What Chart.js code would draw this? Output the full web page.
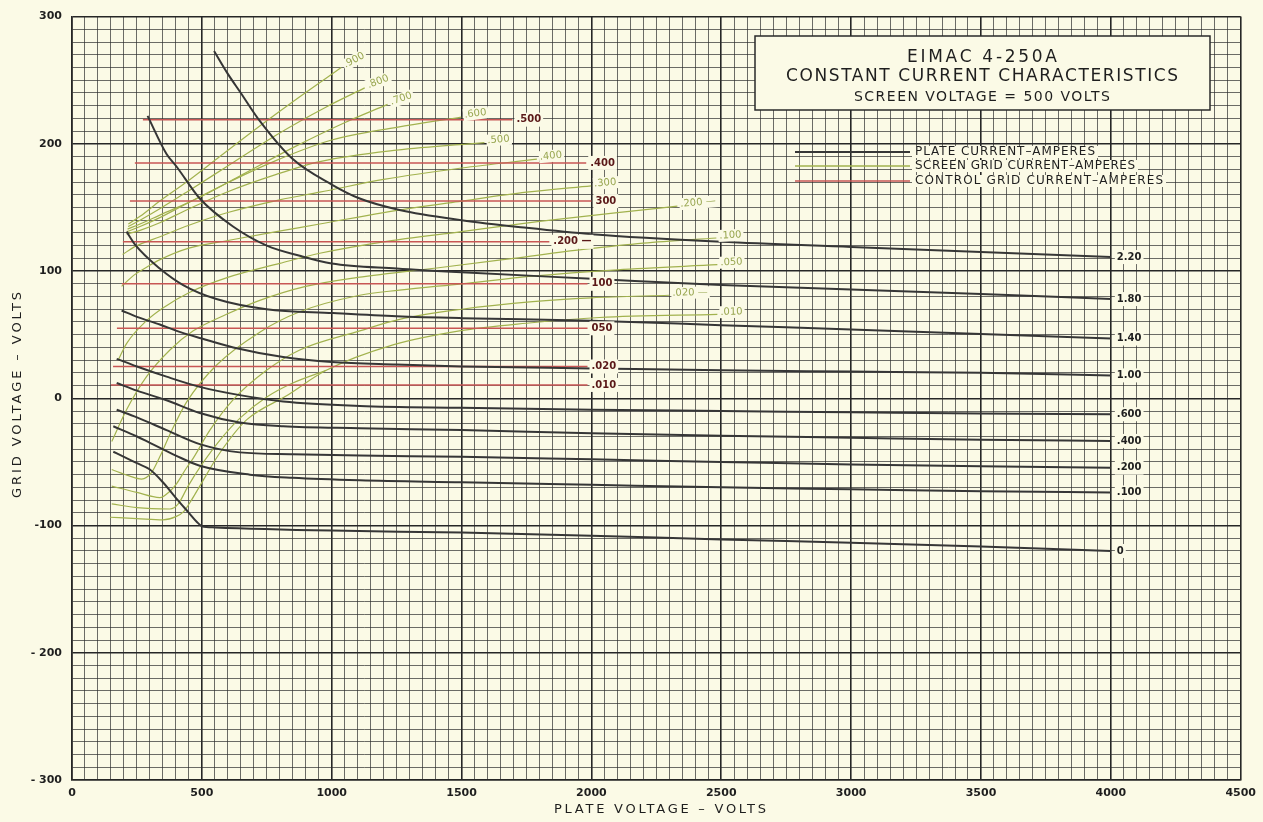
<!DOCTYPE html>
<html>
<head>
<meta charset="utf-8">
<script src="https://cdn.jsdelivr.net/npm/chart.js@4.4.0/dist/chart.umd.min.js"></script>
<style>
  html, body { margin: 0; padding: 0; background: #fbfae6; }
  canvas { display: block; }
</style>
</head>
<body>
<canvas id="cc" width="1263" height="822"></canvas>
<script>
// axis ranges and labels
const xMin = 0, xMax = 4500, yMin = -300, yMax = 300;
const xLabelValues = [0, 500, 1000, 1500, 2000, 2500, 3000, 3500, 4000, 4500];
const yLabelValues = [300, 200, 100, 0, -100, -200, -300];
const yLabelTexts = ['300', '200', '100', '0', '-100', '- 200', '- 300'];

// plate current curves, [plate volts, grid volts]
const plate220 = [[547,273],[600,255],[650,240],[723,218],[850,188],[1000,168],[1108,157],[1261,148],[1500,140],[1750,134],[2000,129],[2500,123],[3000,119],[3500,115],[4000,111]];
const plate180 = [[291,222],[364,192],[403,182],[492,157],[620,135],[750,120],[877,112],[1000,106],[1250,102],[1500,99],[2000,94],[2500,89],[3000,85.5],[3500,82],[4000,78]];
const plate140 = [[210,131],[242,121],[338,102],[428,89],[556,78],[749,70],[1005,67],[1250,64.5],[1500,63],[2000,61],[2500,57.5],[3000,54],[3500,50.5],[4000,47]];
const plate100 = [[191,69],[250,64],[338,58],[403,53],[500,47],[621,40],[813,32.5],[1000,28.5],[1250,26.5],[1500,25],[2000,23.5],[2500,22],[3000,21],[3500,20],[4000,18]];
const plate060 = [[172,31],[250,25],[364,17],[492,9],[646,2.5],[813,-2.5],[1108,-6],[1500,-7.5],[2000,-9],[2500,-10],[3000,-11],[3500,-12],[4000,-12.5]];
const plate040 = [[172,12],[250,6],[364,-1.5],[492,-11.5],[646,-19],[813,-22],[1108,-23.5],[1500,-25],[2000,-27.5],[2500,-29.5],[3000,-31],[3500,-32.5],[4000,-33.5]];
const plate020 = [[172,-9],[250,-15],[364,-25],[492,-36],[646,-42.5],[850,-44],[1108,-45],[1500,-46],[2000,-48],[2500,-50],[3000,-52],[3500,-53.5],[4000,-54.5]];
const plate010 = [[159,-22],[250,-30],[300,-35],[400,-45],[492,-53],[685,-60],[850,-62.5],[1108,-64.5],[1500,-66],[2000,-68],[2500,-70],[3000,-71.5],[3500,-73],[4000,-74]];
const plate000 = [[159,-42],[200,-46],[250,-51],[300,-56],[350,-66],[403,-79],[450,-90],[480,-97],[500,-100.5],[550,-101.5],[1000,-104],[1500,-105.5],[2000,-108],[2500,-111],[3000,-113.5],[3500,-116.5],[4000,-120]];
const plateCurves = [plate220, plate180, plate140, plate100, plate060, plate040, plate020, plate010, plate000];
const plateLabels = ['2.20', '1.80', '1.40', '1.00', '.600', '.400', '.200', '.100', '0'];

// screen grid current curves
const scr900 = [[217,137],[262,143],[338,155],[441,170],[569,190],[723,214],[877,237],[1037,260]];
const scr800 = [[216,135],[262,140],[338,149],[441,162],[595,182],[787,207],[979,229],[1127,244]];
const scr700 = [[214,133],[262,137],[338,144],[492,158],[658,176],[851,197],[1043,216],[1215,231]];
const scr600 = [[212,131],[262,135],[338,142],[441,153],[595,169],[787,187],[1000,203],[1250,213],[1499,221]];
const scr500 = [[210,129],[262,132],[338,138],[441,148],[595,162],[787,176],[954,186],[1250,195],[1588,201]];
const scr400 = [[195,113],[240,119],[339,127],[450,136],[600,146],[800,156],[954,162],[1200,172],[1500,181],[1790,188]];
const scr300 = [[191,88],[240,97],[287,103],[339,109],[450,118],[600,124],[787,131],[954,137],[1200,146],[1500,155],[1750,162],[1999,167]];
const scr200 = [[178,30],[210,43],[287,61],[350,71],[450,83],[600,95],[800,106],[954,114],[1200,123],[1500,131],[1800,139],[2100,146],[2331,151]];
const scr100 = [[153,-34],[210,-9],[287,17],[377,38],[467,53],[595,66],[723,77],[900,88],[1100,95],[1427,103],[1700,110],[1969,117],[2200,122],[2481,126]];
const scr050 = [[153,-56],[220,-61],[268,-63.5],[306,-58.5],[338,-46],[380,-27],[441,-3],[556,26],[723,52],[877,68],[1108,81],[1261,85],[1500,90],[1774,96],[2100,101],[2485,105]];
const scr020 = [[153,-69],[250,-74],[338,-78],[377,-73],[403,-67],[440,-55],[467,-47],[531,-25],[621,-1],[749,22],[877,38],[1108,53],[1261,62],[1500,70],[1774,76],[2000,79],[2300,81]];
const scrHook = [[153,-83],[250,-86],[377,-87],[409,-83],[447,-69],[500,-52],[569,-33],[650,-15],[750,1],[850,12],[979,22]];
const scr010 = [[146,-93.5],[250,-94.5],[350,-95.5],[400,-93],[430,-89],[460,-80],[492,-69],[569,-43],[672,-17],[826,2],[979,22],[1236,42],[1492,53],[1750,59],[2031,63.5],[2485,66]];
const screenCurves = [scr900, scr800, scr700, scr600, scr500, scr400, scr300, scr200, scr100, scr050, scr020, scrHook, scr010];
const screenLabels = ['.900', '.800', '.700', '.600', '.500', '.400', '.300', '.200 —', '.100', '.050', '.020 —', '', '.010'];

// control grid current (flat lines)
const ctrlLevels = [219, 185, 155, 123, 90, 55, 25, 10.5];
const ctrlStartV = [273, 242, 223, 196, 192, 173, 158, 150];
const ctrlEndV = [1696, 1980, 2000, 1838, 1985, 1985, 1985, 1985];
const ctrlLabels = ['.500', '.400', '300', '.200 —', '100', '050', '.020', '.010'];

// texts
const titleLines = ['EIMAC 4-250A', 'CONSTANT CURRENT CHARACTERISTICS', 'SCREEN VOLTAGE = 500 VOLTS'];
const legendTexts = ['PLATE CURRENT–AMPERES', 'SCREEN GRID CURRENT–AMPERES', 'CONTROL GRID CURRENT–AMPERES'];
const xTitle = 'PLATE VOLTAGE – VOLTS';
const yTitle = 'GRID VOLTAGE – VOLTS';

const PAPER = '#fbfae6';
const PLATE_COL = '#363636';
const SCREEN_COL = '#a2b24e';
const CTRL_COL = '#c85654';
const FONT = '"DejaVu Sans", sans-serif';

const toXY = pts => pts.map(p => ({ x: p[0], y: p[1] }));

const datasets = [];
plateCurves.forEach((c, i) => datasets.push({
  label: 'plate ' + plateLabels[i], data: toXY(c), showLine: true,
  borderColor: PLATE_COL, borderWidth: 2, pointRadius: 0,
  cubicInterpolationMode: 'monotone', kind: 'plate', tag: plateLabels[i]
}));
ctrlLevels.forEach((g, i) => datasets.push({
  label: 'control ' + ctrlLabels[i], data: [{ x: ctrlStartV[i], y: g }, { x: ctrlEndV[i], y: g }],
  showLine: true, borderColor: CTRL_COL, borderWidth: 1.5, pointRadius: 0, tension: 0,
  kind: 'ctrl', tag: ctrlLabels[i]
}));
screenCurves.forEach((c, i) => datasets.push({
  label: 'screen ' + screenLabels[i], data: toXY(c), showLine: true,
  borderColor: SCREEN_COL, borderWidth: 1.2, pointRadius: 0,
  cubicInterpolationMode: 'monotone', kind: 'screen', tag: screenLabels[i]
}));

function spacedText(ctx, text, cx, cy, font, width) {
  ctx.font = font;
  ctx.letterSpacing = '0px';
  const w0 = ctx.measureText(text).width;
  const sp = Math.max(0, (width - w0) / Math.max(1, text.length - 1));
  ctx.letterSpacing = sp + 'px';
  ctx.textAlign = 'left';
  ctx.textBaseline = 'middle';
  ctx.fillText(text, cx - width / 2, cy);
  ctx.letterSpacing = '0px';
}

function boxedLabel(ctx, text, x, y, font, color) {
  ctx.font = font;
  const w = ctx.measureText(text).width;
  ctx.fillStyle = PAPER;
  ctx.fillRect(x - 2, y - 7, w + 4, 14);
  ctx.fillStyle = color;
  ctx.textAlign = 'left';
  ctx.textBaseline = 'middle';
  ctx.fillText(text, x, y);
}

const annotate = {
  id: 'annotate',
  afterDatasetsDraw(chart) {
    const { ctx, scales: { x, y } } = chart;
    ctx.save();

    chart.data.datasets.forEach(ds => {
      if (!ds.tag) return;
      const pts = ds.data;
      const a = pts[pts.length - 2], b = pts[pts.length - 1];
      const px = x.getPixelForValue(b.x), py = y.getPixelForValue(b.y);
      if (ds.kind === 'plate') {
        boxedLabel(ctx, ds.tag, px + 6, py, 'bold 10px ' + FONT, '#1e1e1e');
      } else if (ds.kind === 'ctrl') {
        boxedLabel(ctx, ds.tag, px + 4, py, 'bold 10px ' + FONT, '#5a1818');
      } else {
        const ax = x.getPixelForValue(a.x), ay = y.getPixelForValue(a.y);
        const ang = Math.atan2(py - ay, px - ax) * 0.8;
        ctx.save();
        ctx.translate(px + 3, py - 2);
        ctx.rotate(ang);
        ctx.font = '10px ' + FONT;
        const w = ctx.measureText(ds.tag).width;
        ctx.fillStyle = PAPER;
        ctx.fillRect(-1, -6, w + 3, 12);
        ctx.fillStyle = '#98a650';
        ctx.textAlign = 'left';
        ctx.textBaseline = 'middle';
        ctx.fillText(ds.tag, 0, 0);
        ctx.restore();
      }
    });

    // title box
    ctx.fillStyle = PAPER;
    ctx.fillRect(755, 36, 455, 74);
    ctx.strokeStyle = '#2a2a2a';
    ctx.lineWidth = 1.5;
    ctx.strokeRect(755, 36, 455, 74);
    ctx.fillStyle = '#1e1e1e';
    spacedText(ctx, titleLines[0], 982, 58, '17px ' + FONT, 150);
    spacedText(ctx, titleLines[1], 982, 77, '17px ' + FONT, 392);
    spacedText(ctx, titleLines[2], 982, 97, '14px ' + FONT, 256);

    // legend
    const legendCols = [PLATE_COL, SCREEN_COL, CTRL_COL];
    const legendW = [1.8, 1.5, 1.5];
    const legendTW = [180, 220, 248];
    [152, 166, 181].forEach((ly, i) => {
      ctx.fillStyle = PAPER;
      ctx.fillRect(912, ly - 6, legendTW[i] + 6, 12);
      ctx.strokeStyle = legendCols[i];
      ctx.lineWidth = legendW[i];
      ctx.beginPath();
      ctx.moveTo(795, ly);
      ctx.lineTo(910, ly);
      ctx.stroke();
      ctx.fillStyle = '#1e1e1e';
      spacedText(ctx, legendTexts[i], 915 + legendTW[i] / 2, ly, '12px ' + FONT, legendTW[i]);
    });

    // axis titles
    ctx.fillStyle = '#1e1e1e';
    spacedText(ctx, xTitle, 660, 810, '13px ' + FONT, 212);
    ctx.save();
    ctx.translate(18, 395);
    ctx.rotate(-Math.PI / 2);
    spacedText(ctx, yTitle, 0, 0, '13px ' + FONT, 206);
    ctx.restore();

    ctx.restore();
  }
};

new Chart(document.getElementById('cc'), {
  type: 'scatter',
  data: { datasets },
  options: {
    responsive: false,
    animation: false,
    devicePixelRatio: 1,
    layout: { padding: { left: 10, right: 21, top: 10, bottom: 0 } },
    plugins: { legend: { display: false }, tooltip: { enabled: false } },
    events: [],
    scales: {
      x: {
        type: 'linear', min: xMin, max: xMax,
        afterFit: s => { s.height = 42; },
        afterBuildTicks: s => {
          const t = [];
          for (let v = xMin; v <= xMax; v += 50) t.push({ value: v });
          s.ticks = t;
        },
        ticks: {
          autoSkip: false, maxRotation: 0, padding: 7, color: '#1e1e1e',
          font: { family: FONT, size: 11, weight: 'bold' },
          callback: v => xLabelValues.includes(v) ? String(v) : ''
        },
        grid: {
          drawTicks: false,
          color: c => c.tick && c.tick.value % 500 === 0 ? '#262626' : 'rgba(45,45,45,0.78)',
          lineWidth: c => c.tick && c.tick.value % 500 === 0 ? 1.6 : 0.9
        },
        border: { color: '#262626', width: 1.6 }
      },
      y: {
        type: 'linear', min: yMin, max: yMax,
        afterFit: s => { s.width = 62; },
        afterBuildTicks: s => {
          const t = [];
          for (let v = yMin; v <= yMax; v += 10) t.push({ value: v });
          s.ticks = t;
        },
        ticks: {
          autoSkip: false, padding: 10, color: '#1e1e1e',
          font: { family: FONT, size: 11, weight: 'bold' },
          callback: v => {
            const i = yLabelValues.indexOf(v);
            return i >= 0 ? yLabelTexts[i] : '';
          }
        },
        grid: {
          drawTicks: false,
          color: c => c.tick && c.tick.value % 100 === 0 ? '#262626' : 'rgba(45,45,45,0.78)',
          lineWidth: c => c.tick && c.tick.value % 100 === 0 ? 1.6 : 0.9
        },
        border: { color: '#262626', width: 1.6 }
      }
    }
  },
  plugins: [annotate]
});
</script>
</body>
</html>
